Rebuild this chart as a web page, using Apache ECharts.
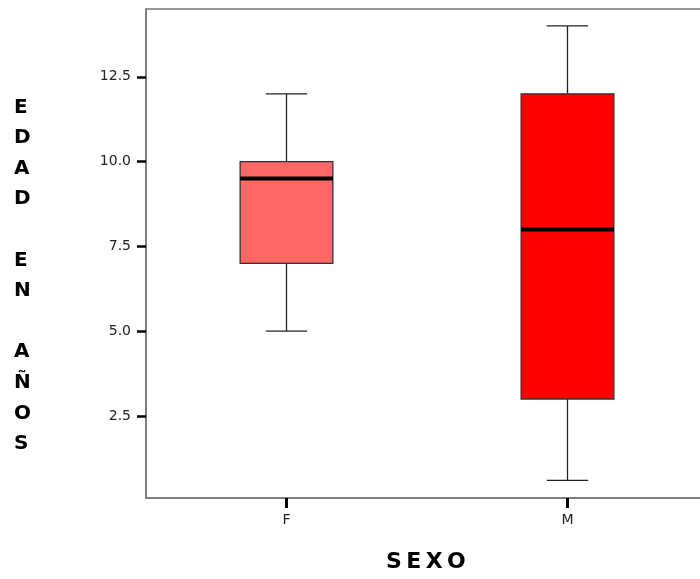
<!DOCTYPE html>
<html>
<head>
<meta charset="utf-8">
<script src="https://cdn.jsdelivr.net/npm/echarts@6/dist/echarts.min.js"></script>
<style>
  html, body { margin: 0; padding: 0; background: #fff; }
  #chart { width: 700px; height: 579px; }
</style>
</head>
<body>
<div id="chart"></div>
<script>
  // box plot stats per sex
  const categories = ['F', 'M'];
  const lowVals = [5.0, 0.6];
  const q1Vals = [7.0, 3.0];
  const medVals = [9.5, 8.0];
  const q3Vals = [10.0, 12.0];
  const highVals = [12.0, 14.0];
  const boxColors = ['#FF6666', '#FF0000'];
  const yTicks = [2.5, 5.0, 7.5, 10.0, 12.5];

  const seriesData = categories.map(function (c, i) {
    return [i, lowVals[i], q1Vals[i], medVals[i], q3Vals[i], highVals[i]];
  });

  function renderBox(params, api) {
    const idx = api.value(0);
    const pLow = api.coord([idx, api.value(1)]);
    const pQ1 = api.coord([idx, api.value(2)]);
    const pMed = api.coord([idx, api.value(3)]);
    const pQ3 = api.coord([idx, api.value(4)]);
    const pHigh = api.coord([idx, api.value(5)]);
    const band = api.size([1, 0])[0];
    const boxW = band * 0.33;
    const capW = band * 0.147;
    const cx = pMed[0];
    const line = { stroke: '#222', lineWidth: 1.3 };
    return {
      type: 'group',
      children: [
        { type: 'line', shape: { x1: cx, y1: pHigh[1], x2: cx, y2: pQ3[1] }, style: line },
        { type: 'line', shape: { x1: cx, y1: pQ1[1], x2: cx, y2: pLow[1] }, style: line },
        { type: 'line', shape: { x1: cx - capW / 2, y1: pHigh[1], x2: cx + capW / 2, y2: pHigh[1] }, style: line },
        { type: 'line', shape: { x1: cx - capW / 2, y1: pLow[1], x2: cx + capW / 2, y2: pLow[1] }, style: line },
        {
          type: 'rect',
          shape: { x: cx - boxW / 2, y: pQ3[1], width: boxW, height: pQ1[1] - pQ3[1] },
          style: { fill: boxColors[idx], stroke: '#333', lineWidth: 1.3 }
        },
        { type: 'line', shape: { x1: cx - boxW / 2, y1: pMed[1], x2: cx + boxW / 2, y2: pMed[1] }, style: { stroke: '#000', lineWidth: 4 } }
      ]
    };
  }

  const chart = echarts.init(document.getElementById('chart'));
  chart.setOption({
    animation: false,
    backgroundColor: '#fff',
    textStyle: { fontFamily: 'DejaVu Sans' },
    grid: {
      show: true,
      outerBoundsMode: 'none',
      containLabel: false,
      left: 146,
      top: 9,
      width: 562,
      bottom: 81,
      borderColor: '#777',
      borderWidth: 1.5
    },
    xAxis: {
      type: 'category',
      data: categories,
      axisLine: { show: true, lineStyle: { color: '#777', width: 1.5 } },
      axisTick: { show: true, alignWithLabel: true, length: 10, lineStyle: { color: '#000', width: 3 } },
      axisLabel: { color: '#222', fontSize: 14, margin: 15 },
      splitLine: { show: false }
    },
    yAxis: {
      type: 'value',
      min: 0.08,
      max: 14.5,
      axisLine: { show: true, lineStyle: { color: '#777', width: 1.5 } },
      axisTick: { show: true, customValues: yTicks, length: 9, lineStyle: { color: '#000', width: 2.5 } },
      axisLabel: {
        customValues: yTicks,
        color: '#222',
        fontSize: 14,
        margin: 15,
        formatter: function (v) { return v.toFixed(1); }
      },
      splitLine: { show: false }
    },
    graphic: [
      {
        type: 'text',
        left: 14,
        top: 92,
        style: {
          text: 'E\nD\nA\nD\n\nE\nN\n\nA\nÑ\nO\nS',
          fontSize: 20,
          fontWeight: 'bold',
          fontFamily: 'DejaVu Sans',
          lineHeight: 30.6,
          align: 'center',
          fill: '#000'
        }
      },
      {
        type: 'text',
        left: 386,
        top: 551,
        style: {
          text: 'S\u2009E\u2009X\u2009O',
          fontSize: 22,
          fontWeight: 'bold',
          fontFamily: 'DejaVu Sans',
          fill: '#000'
        }
      }
    ],
    series: [
      {
        type: 'custom',
        renderItem: renderBox,
        encode: { x: 0, y: [1, 2, 3, 4, 5] },
        data: seriesData
      }
    ]
  });
</script>
</body>
</html>
